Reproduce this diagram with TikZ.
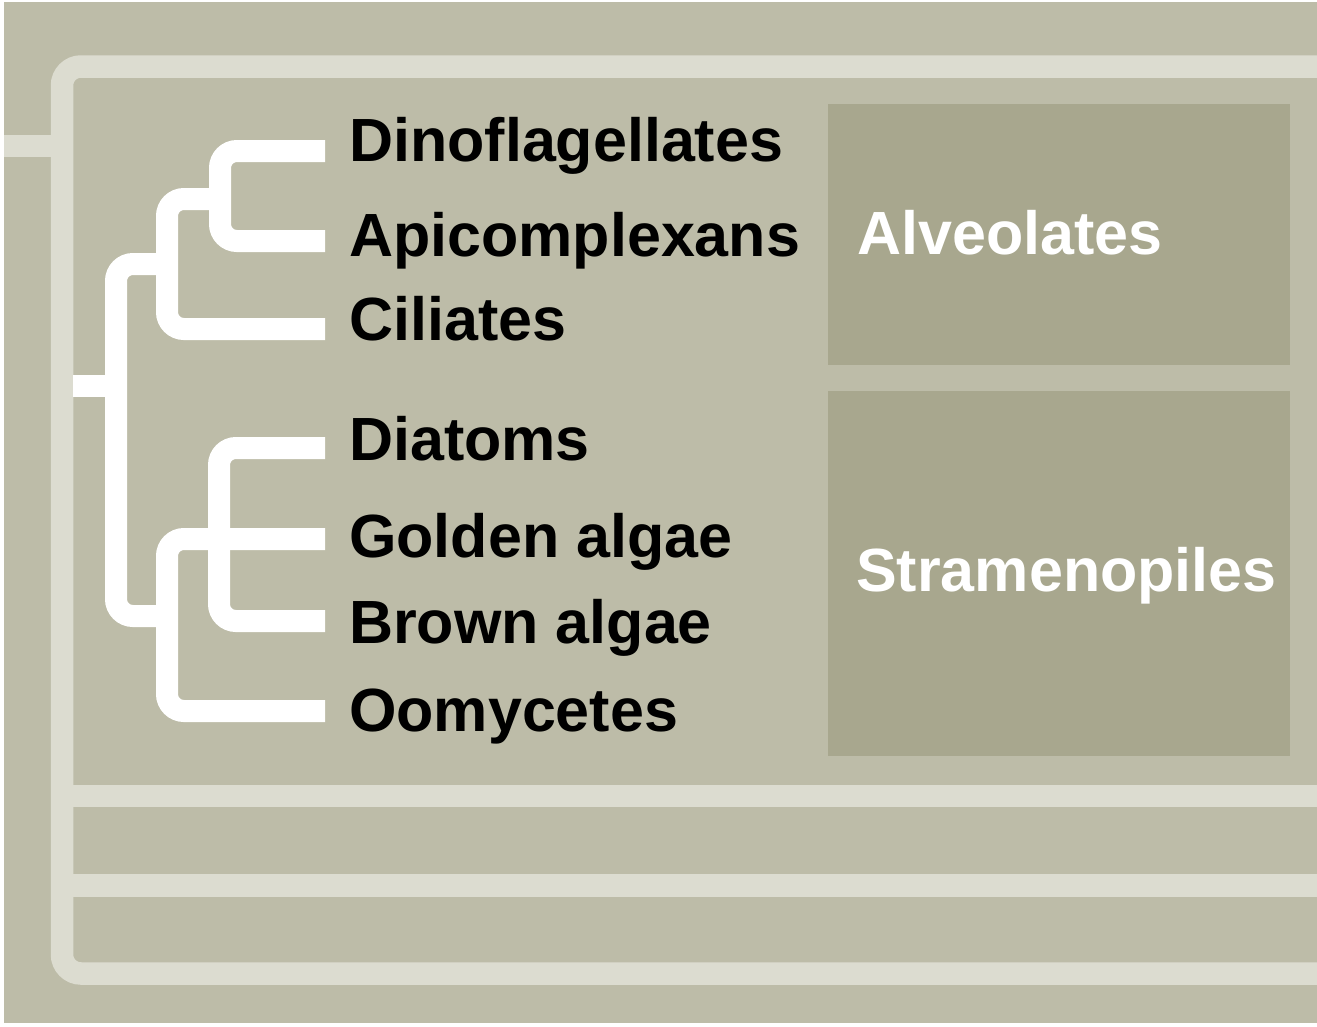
\documentclass[tikz,border=0pt]{standalone}
\usepackage{fontspec}
\setmainfont{Liberation Sans}
\definecolor{panel}{RGB}{189,188,168}
\definecolor{rule}{RGB}{220,220,208}
\definecolor{cladefill}{RGB}{168,167,142}
\tikzset{
  frameline/.style={draw=rule, line width=22.5pt, rounded corners=19pt},
  branch/.style={draw=white, line width=22pt, rounded corners=17pt},
  taxon/.style={anchor=base west, inner sep=0pt, text=black,
    font=\fontsize{61}{61}\selectfont\bfseries},
  cladename/.style={anchor=base west, inner sep=0pt, text=white,
    font=\fontsize{61}{61}\selectfont\bfseries},
  cladebox/.style={fill=cladefill, anchor=north west, inner sep=0pt}
}
\begin{document}
\begin{tikzpicture}[x=1pt,y=-1pt]
\useasboundingbox (0,0) rectangle (1317,1026);
\fill[white] (0,0) rectangle (1317,1026);
\fill[panel] (4,2) rectangle (1317,1023);

% frame rules
\path[frameline] (1317,66.5) -- (62,66.5) -- (62,973.5) -- (1317,973.5);
\path[frameline, rounded corners=0pt] (62,796) -- (1317,796);
\path[frameline, rounded corners=0pt] (62,885.5) -- (1317,885.5);
\path[frameline, rounded corners=0pt] (4,146) -- (62,146);

% clade boxes
\node[cladebox, minimum width=462pt, minimum height=261pt] (alvbox) at (828,104) {};
\node[cladebox, minimum width=462pt, minimum height=365pt] (strbox) at (828,391) {};
\node[cladename] (alv) at (857,254) {Alveolates};
\node[cladename] (str) at (856,591) {Stramenopiles};

% taxa
\node[taxon] (dino) at (349,161) {Dinoflagellates};
\node[taxon] (api)  at (349,256) {Apicomplexans};
\node[taxon] (cil)  at (349,340) {Ciliates};
\node[taxon] (dia)  at (349,460) {Diatoms};
\node[taxon] (gold) at (349,557) {Golden algae};
\node[taxon] (brown) at (349,643) {Brown algae};
\node[taxon] (oomy) at (349,731) {Oomycetes};

% tips of the branches
\coordinate (tDino)  at (325,151);
\coordinate (tApi)   at (325,241);
\coordinate (tCil)   at (325,329);
\coordinate (tDia)   at (325,448);
\coordinate (tGold)  at (325,539);
\coordinate (tBrown) at (325,621);
\coordinate (tOomy)  at (325,711);
% internal nodes
\coordinate (nDA)   at (220,199);
\coordinate (nAlv)  at (167,264);
\coordinate (nStr)  at (167,616);
\coordinate (root)  at (116,386);
\coordinate (rootL) at (73,386);

% cladogram
\path[branch] (tDino) -- (220,151) -- (220,241) -- (tApi);
\path[branch] (nDA) -- (167,199) -- (167,329) -- (tCil);
\path[branch] (nAlv) -- (116,264) -- (116,616) -- (nStr);
\path[branch] (rootL) -- (root);
\path[branch] (tDia) -- (219,448) -- (219,621) -- (tBrown);
\path[branch] (tGold) -- (167,539) -- (167,711) -- (tOomy);
\end{tikzpicture}
\end{document}
